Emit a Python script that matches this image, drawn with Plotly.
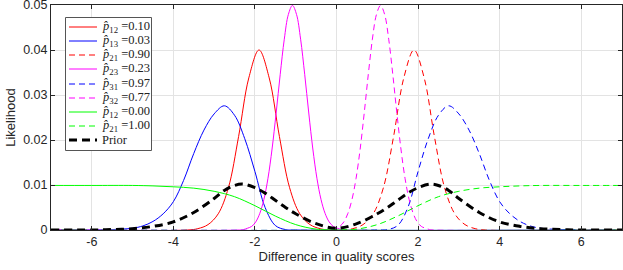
import plotly.graph_objects as go

# ---------------- data ----------------
red_solid_x = [-7, -3.65, -3.40, -3.15, -2.90, -2.65, -2.40, -2.15, -1.90, -1.65, -1.40, -1.15, -0.90, -0.65, -0.40, -0.15, 7]
red_solid_y = [0, 0, 0.0003, 0.0012, 0.0036, 0.0094, 0.0208, 0.0338, 0.0400, 0.0338, 0.0208, 0.0094, 0.0036, 0.0012, 0.0003, 0, 0]

blue_solid_x = [-7, -6.0, -5.5, -5.0, -4.75, -4.5, -4.25, -4.0, -3.75, -3.5, -3.25, -3.0, -2.75, -2.5, -2.25, -2.0, -1.75, -1.5, -1.25, -1.0, 7]
blue_solid_y = [0, 0, 0.0001, 0.0004, 0.0009, 0.0019, 0.0036, 0.0063, 0.0110, 0.0170, 0.0222, 0.0258, 0.0276, 0.0255, 0.0203, 0.0130, 0.0050, 0.0010, 0.0001, 0, 0]

red_dash_x = [-7, 0.15, 0.40, 0.65, 0.90, 1.15, 1.40, 1.65, 1.90, 2.15, 2.40, 2.65, 2.90, 3.15, 3.40, 3.65, 7]
red_dash_y = [0, 0, 0.0003, 0.0012, 0.0036, 0.0094, 0.0208, 0.0338, 0.0400, 0.0338, 0.0208, 0.0094, 0.0036, 0.0012, 0.0003, 0, 0]

mag_solid_x = [-7, -2.38, -2.28, -2.18, -2.08, -1.98, -1.88, -1.78, -1.68, -1.58, -1.48, -1.38, -1.28, -1.18, -1.08,
               -0.98, -0.88, -0.78, -0.68, -0.58, -0.48, -0.38, -0.28, -0.18, -0.08, 0.02, 0.12, 0.22, 7]
mag_solid_y = [0, 0, 0.0001, 0.0004, 0.0008, 0.0018, 0.0037, 0.0068, 0.0115, 0.0180, 0.0260, 0.0346, 0.0424, 0.0479, 0.0499,
               0.0479, 0.0424, 0.0346, 0.0260, 0.0180, 0.0115, 0.0068, 0.0037, 0.0018, 0.0008, 0.0004, 0.0001, 0, 0]

blue_dash_x = [-7, 1.0, 1.25, 1.5, 1.75, 2.0, 2.25, 2.5, 2.75, 3.0, 3.25, 3.5, 3.75, 4.0, 4.25, 4.5, 4.75, 5.0, 5.5, 6.0, 7]
blue_dash_y = [0, 0, 0.0001, 0.0010, 0.0050, 0.0130, 0.0203, 0.0255, 0.0276, 0.0258, 0.0222, 0.0170, 0.0110, 0.0063, 0.0036, 0.0019, 0.0009, 0.0004, 0.0001, 0, 0]

mag_dash_x = [-7, -0.22, -0.12, -0.02, 0.08, 0.18, 0.28, 0.38, 0.48, 0.58, 0.68, 0.78, 0.88, 0.98, 1.08,
              1.18, 1.28, 1.38, 1.48, 1.58, 1.68, 1.78, 1.88, 1.98, 2.08, 2.18, 2.28, 2.38, 7]
mag_dash_y = [0, 0, 0.0001, 0.0004, 0.0008, 0.0018, 0.0037, 0.0068, 0.0115, 0.0180, 0.0260, 0.0346, 0.0424, 0.0479, 0.0499,
              0.0479, 0.0424, 0.0346, 0.0260, 0.0180, 0.0115, 0.0068, 0.0037, 0.0018, 0.0008, 0.0004, 0.0001, 0, 0]

green_solid_x = [-7, -6, -5, -4.5, -4, -3.5, -3, -2.5, -2, -1.5, -1, -0.5, 0, 7]
green_solid_y = [0.0099, 0.0099, 0.0099, 0.0098, 0.0096, 0.0093, 0.0086, 0.0074, 0.0054, 0.0031, 0.0012, 0.0002, 0, 0]

green_dash_x = [-7, 0, 0.5, 1, 1.5, 2, 2.5, 3, 3.5, 4, 4.5, 5, 6, 7]
green_dash_y = [0, 0, 0.0002, 0.0012, 0.0031, 0.0054, 0.0074, 0.0086, 0.0093, 0.0096, 0.0098, 0.0099, 0.0099, 0.0099]

prior_x = [-7, -6, -5.5, -5, -4.5, -4, -3.5, -3, -2.75, -2.5, -2.3, -2, -1.75, -1.5, -1.25, -1, -0.5, 0,
           0.5, 1, 1.25, 1.5, 1.75, 2, 2.3, 2.5, 2.75, 3, 3.5, 4, 4.5, 5, 5.5, 6, 7]
prior_y = [0, 0, 0.0001, 0.0003, 0.0008, 0.0018, 0.0039, 0.0070, 0.0088, 0.0099, 0.0102, 0.0094, 0.0082, 0.0066, 0.0050, 0.0036, 0.0014, 0.0004,
           0.0014, 0.0036, 0.0050, 0.0066, 0.0082, 0.0094, 0.0102, 0.0099, 0.0088, 0.0070, 0.0039, 0.0018, 0.0008, 0.0003, 0.0001, 0, 0]

legend_names = [
    "<i>p̂</i><sub>12</sub> =0.10",
    "<i>p̂</i><sub>13</sub> =0.03",
    "<i>p̂</i><sub>21</sub> =0.90",
    "<i>p̂</i><sub>23</sub> =0.23",
    "<i>p̂</i><sub>31</sub> =0.97",
    "<i>p̂</i><sub>32</sub> =0.77",
    "<i>p̂</i><sub>12</sub> =0.00",
    "<i>p̂</i><sub>21</sub> =1.00",
    "Prior",
]

x_ticks = [-6, -4, -2, 0, 2, 4, 6]
x_tick_labels = ["-6", "-4", "-2", "0", "2", "4", "6"]
y_ticks = [0, 0.01, 0.02, 0.03, 0.04, 0.05]
y_tick_labels = ["0", "0.01", "0.02", "0.03", "0.04", "0.05"]

# ---------------- figure ----------------
W, H = 623, 270
ML, MR, MT, MB = 51, 1, 5, 40
PW, PH = W - ML - MR, H - MT - MB

def px_x(p):  # pixel -> paper x
    return (p - ML) / PW

def px_y(p):  # pixel -> paper y
    return (H - MB - p) / PH

DASH = "6px,4px"
series = [
    (red_solid_x, red_solid_y, "#ff0000", "solid", 1),
    (blue_solid_x, blue_solid_y, "#0000ff", "solid", 1),
    (red_dash_x, red_dash_y, "#ff0000", DASH, 1),
    (mag_solid_x, mag_solid_y, "#ff00ff", "solid", 1),
    (blue_dash_x, blue_dash_y, "#0000ff", DASH, 1),
    (mag_dash_x, mag_dash_y, "#ff00ff", DASH, 1),
    (green_solid_x, green_solid_y, "#00ff00", "solid", 1),
    (green_dash_x, green_dash_y, "#00ff00", DASH, 1),
    (prior_x, prior_y, "#000000", "8px,5px", 3),
]

fig = go.Figure()
for (xs, ys, col, dash, w), name in zip(series, legend_names):
    fig.add_trace(go.Scatter(
        x=xs, y=ys, name=name, mode="lines", showlegend=False,
        line=dict(color=col, dash=dash, width=w, shape="spline", smoothing=1.0),
    ))

# compact legend box (drawn as a framed list, like the reference)
shapes = [dict(type="rect", xref="paper", yref="paper",
               x0=px_x(65.5), x1=px_x(151.5), y0=px_y(150.5), y1=px_y(17.5),
               line=dict(color="#555555", width=1), fillcolor="white", layer="above")]
annotations = []
for i, ((xs, ys, col, dash, w), name) in enumerate(zip(series, legend_names)):
    row = 26.7 + 14.2 * i
    line_row = float(round(row))
    shapes.append(dict(type="line", xref="paper", yref="paper",
                       x0=px_x(69), x1=px_x(97), y0=px_y(line_row), y1=px_y(line_row),
                       line=dict(color=col, dash=dash, width=w), layer="above"))
    annotations.append(dict(xref="paper", yref="paper", x=px_x(100), y=px_y(row),
                            xanchor="left", yanchor="middle", text=name, showarrow=False,
                            font=dict(family="Liberation Serif, Times New Roman, serif",
                                      size=12.5, color="#222222")))

axis_common = dict(
    showline=True, linecolor="#262626", linewidth=1, mirror="allticks",
    ticks="inside", ticklen=4, tickcolor="#262626",
    showgrid=True, gridcolor="#e3e3e3", gridwidth=1, zeroline=False,
    automargin=False, ticklabeloverflow="allow",
    tickfont=dict(family="Liberation Sans, Arial, sans-serif", size=12.5, color="#262626"),
)

fig.update_layout(
    width=W, height=H,
    margin=dict(l=ML, r=MR, t=MT, b=MB, autoexpand=False),
    paper_bgcolor="white", plot_bgcolor="white",
    font=dict(family="Liberation Sans, Arial, sans-serif", color="#262626"),
    xaxis=dict(range=[-7, 7], tickvals=x_ticks, ticktext=x_tick_labels,
               title=dict(text="Difference in quality scores", standoff=2,
                          font=dict(size=13, color="#262626")),
               **axis_common),
    yaxis=dict(range=[0, 0.05], tickvals=y_ticks, ticktext=y_tick_labels,
               title=dict(text="Likelihood", standoff=4,
                          font=dict(size=13, color="#262626")),
               **axis_common),
    shapes=shapes,
    annotations=annotations,
    showlegend=False,
)

fig.write_html("out.html",
               config={"displayModeBar": False},
               post_script="document.body.style.margin='0';document.body.style.overflow='hidden';")
